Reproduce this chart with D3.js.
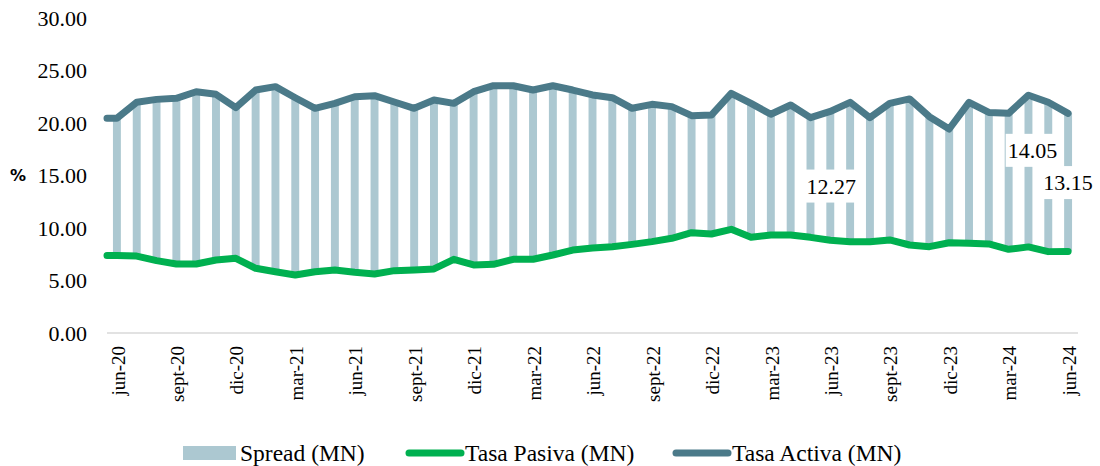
<!DOCTYPE html>
<html><head><meta charset="utf-8">
<script src="https://cdn.jsdelivr.net/npm/d3@7"></script>
<style>
html,body{margin:0;padding:0;background:#fff;}
svg{display:block;}
</style></head>
<body>
<svg id="chart" width="1100" height="466"></svg>
<script>
const months = ["jun-20","jul-20","ago-20","sept-20","oct-20","nov-20","dic-20","ene-21","feb-21","mar-21","abr-21","may-21",
"jun-21","jul-21","ago-21","sept-21","oct-21","nov-21","dic-21","ene-22","feb-22","mar-22","abr-22","may-22",
"jun-22","jul-22","ago-22","sept-22","oct-22","nov-22","dic-22","ene-23","feb-23","mar-23","abr-23","may-23",
"jun-23","jul-23","ago-23","sept-23","oct-23","nov-23","dic-23","ene-24","feb-24","mar-24","abr-24","may-24","jun-24"];

const tasaActiva = [20.45,21.97,22.25,22.35,22.98,22.73,21.46,23.14,23.46,22.41,21.40,21.87,
22.50,22.60,22.00,21.40,22.19,21.87,22.98,23.55,23.55,23.14,23.55,23.14,
22.67,22.41,21.40,21.78,21.56,20.70,20.76,22.83,21.87,20.83,21.71,20.51,
21.10,21.97,20.51,21.87,22.29,20.60,19.43,21.97,21.01,20.92,22.65,21.97,20.92];

const tasaPasiva = [7.37,7.33,6.89,6.57,6.57,6.95,7.11,6.16,5.84,5.52,5.84,6.00,
5.78,5.62,5.94,6.00,6.10,7.02,6.48,6.54,7.02,7.02,7.43,7.90,
8.10,8.22,8.44,8.70,9.02,9.55,9.43,9.87,9.11,9.33,9.33,9.11,
8.83,8.70,8.70,8.86,8.38,8.22,8.60,8.54,8.48,7.97,8.20,7.75,7.77];

const spread = [13.08,14.64,15.36,15.78,16.41,15.78,14.35,16.98,17.62,16.89,15.56,15.87,
16.72,16.98,16.06,15.40,16.09,14.85,16.50,17.01,16.53,16.12,16.12,15.24,
14.57,14.19,12.96,13.08,12.54,11.15,11.33,12.96,12.76,11.50,12.38,11.40,
12.27,13.27,11.81,13.01,13.91,12.38,10.83,13.43,12.53,12.95,14.05,14.22,13.15];

const yTicks = [0,5,10,15,20,25,30];
const xTickLabels = ["jun-20","sept-20","dic-20","mar-21","jun-21","sept-21","dic-21","mar-22","jun-22","sept-22","dic-22","mar-23","jun-23","sept-23","dic-23","mar-24","jun-24"];
const labeledMonths = ["jun-23","abr-24","jun-24"];
const seriesNames = ["Spread (MN)","Tasa Pasiva (MN)","Tasa Activa (MN)"];

// layout / style (not data)
const labelShift = {"jun-23":[1,10],"abr-24":[4,-23],"jun-24":[0,0]};
const colors = {spread:"#acc8d1", pasiva:"#00b050", activa:"#4b7a89"};
const serif = "'Liberation Serif','Times New Roman',serif";

const svg = d3.select("#chart");
const plot = {left:107, right:1078, top:18, bottom:333};

const x = d3.scaleBand().domain(months).range([plot.left, plot.right]).paddingInner(0.6).paddingOuter(0.3);
const y = d3.scaleLinear().domain([0,30]).range([plot.bottom, plot.top]);
const cx = m => x(m) + x.bandwidth()/2;

// y axis labels
svg.append("g").selectAll("text").data(yTicks).join("text")
  .attr("x", 87).attr("y", d => y(d)).attr("dy","0.35em")
  .attr("text-anchor","end").attr("font-family",serif).attr("font-size",22).attr("fill","#000")
  .text(d => d3.format(".2f")(d));

svg.append("text").attr("x",18).attr("y",y(15)).attr("dy","0.35em").attr("text-anchor","middle")
  .attr("font-family","'DejaVu Sans',sans-serif").attr("font-weight","bold").attr("font-size",16).attr("fill","#000").text("%");

// bars (stacked on invisible pasiva base)
svg.append("g").selectAll("rect").data(months).join("rect")
  .attr("x", m => x(m)).attr("width", x.bandwidth())
  .attr("y", (m,i) => y(tasaPasiva[i] + spread[i]))
  .attr("height", (m,i) => y(tasaPasiva[i]) - y(tasaPasiva[i] + spread[i]))
  .attr("fill", colors.spread);

// x axis line
svg.append("line").attr("x1",plot.left).attr("x2",plot.right).attr("y1",y(0)).attr("y2",y(0))
  .attr("stroke","#d9d9d9").attr("stroke-width",1.5);

// x tick labels
svg.append("g").selectAll("text").data(xTickLabels).join("text")
  .attr("transform", m => `translate(${cx(m)+1},346) rotate(-90)`)
  .attr("dy","0.35em").attr("text-anchor","end")
  .attr("font-family",serif).attr("font-size",19).attr("fill","#000").text(m => m);

// lines
function drawLine(vals, color){
  const pts = [[plot.left, vals[0]]].concat(months.map((m,i)=>[cx(m), vals[i]]));
  const line = d3.line().x(d=>d[0]).y(d=>y(d[1]));
  svg.append("path").attr("d", line(pts)).attr("fill","none").attr("stroke",color)
    .attr("stroke-width",7).attr("stroke-linejoin","round").attr("stroke-linecap","round");
}
drawLine(tasaPasiva, colors.pasiva);
drawLine(tasaActiva, colors.activa);

// data labels
const lg = svg.append("g");
labeledMonths.forEach(m => {
  const i = months.indexOf(m);
  const sh = labelShift[m];
  const lx = cx(m) + sh[0];
  const ly = y(tasaPasiva[i] + spread[i]/2) + sh[1];
  const g = lg.append("g");
  const t = g.append("text").attr("x",lx).attr("y",ly).attr("dy","0.35em").attr("text-anchor","middle")
    .attr("font-family",serif).attr("font-size",22).attr("fill","#000").text(d3.format(".2f")(spread[i]));
  const bb = t.node().getBBox();
  g.insert("rect","text").attr("x",bb.x-2).attr("y",bb.y-4).attr("width",bb.width+4).attr("height",bb.height+8).attr("fill","#fff");
});

// legend
const leg = svg.append("g");
const legY = 453;
const legItems = [
  {name:seriesNames[0], type:"rect", color:colors.spread, x0:183},
  {name:seriesNames[1], type:"line", color:colors.pasiva, x0:405},
  {name:seriesNames[2], type:"line", color:colors.activa, x0:672}
];
legItems.forEach(it => {
  if (it.type==="rect") {
    leg.append("rect").attr("x",it.x0).attr("y",legY-7).attr("width",53).attr("height",14).attr("fill",it.color);
  } else {
    leg.append("line").attr("x1",it.x0+4).attr("x2",it.x0+56).attr("y1",legY).attr("y2",legY)
      .attr("stroke",it.color).attr("stroke-width",7).attr("stroke-linecap","round");
  }
  leg.append("text").attr("x",it.x0 + (it.type==="rect" ? 57 : 60)).attr("y",legY).attr("dy","0.35em")
    .attr("font-family",serif).attr("font-size",23.5).attr("fill","#000").text(it.name);
});
</script>
</body></html>
